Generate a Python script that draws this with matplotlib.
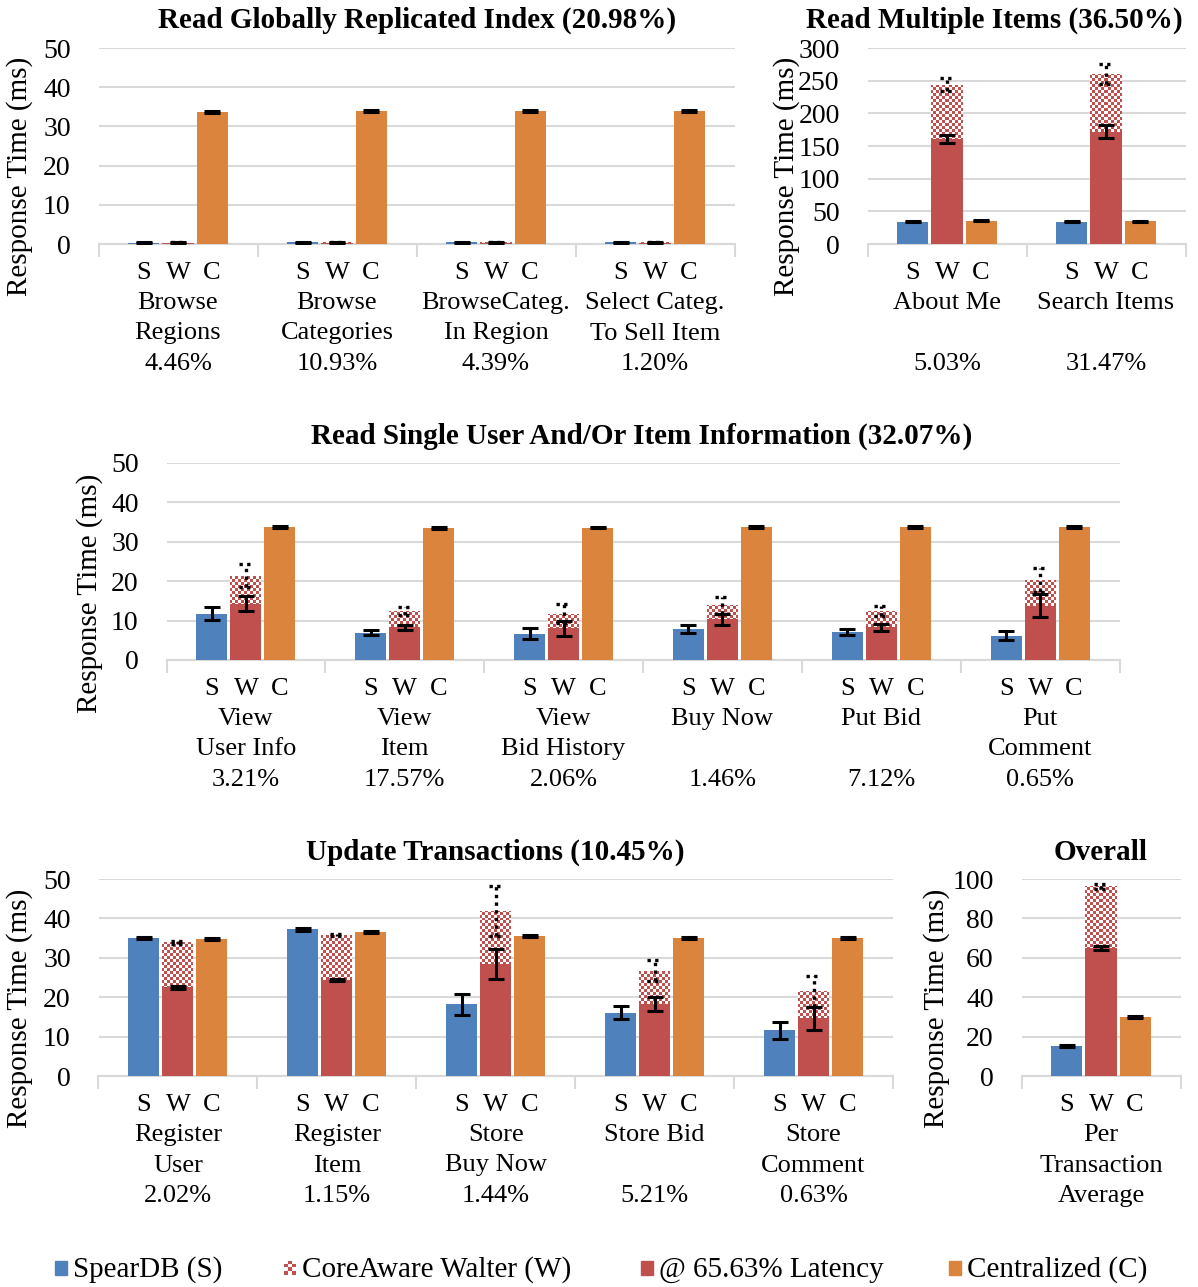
import numpy as np
import matplotlib
matplotlib.use('Agg')
import matplotlib.pyplot as plt
from matplotlib.colors import ListedColormap
from matplotlib.patches import Rectangle

plt.rcParams['font.family'] = ['Liberation Serif', 'DejaVu Serif']

W_PX, H_PX = 1198, 1287
BLUE = '#4F81BD'
RED = '#C0504D'
ORANGE = '#DB843D'
GRID = '#D9D9D9'

# ---- data (ms) ----
# Read Globally Replicated Index
p1_names = ["Browse\nRegions", "Browse\nCategories", "BrowseCateg.\nIn Region", "Select Categ.\nTo Sell Item"]
p1_pct = ["4.46%", "10.93%", "4.39%", "1.20%"]
p1_s = [0.3, 0.4, 0.4, 0.4]
p1_s_err = [0.1, 0.1, 0.1, 0.1]
p1_wlat = [0.3, 0.3, 0.3, 0.3]
p1_wlat_err = [0.1, 0.1, 0.1, 0.1]
p1_w = [0.35, 0.4, 0.4, 0.4]
p1_w_err = [0.05, 0.05, 0.05, 0.05]
p1_c = [33.7, 33.9, 33.9, 33.9]
p1_c_err = [0.3, 0.3, 0.3, 0.3]

# Read Multiple Items
p2_names = ["About Me\n", "Search Items\n"]
p2_pct = ["5.03%", "31.47%"]
p2_s = [34.0, 34.0]
p2_s_err = [1.0, 1.0]
p2_wlat = [161, 172]
p2_wlat_err = [6, 10.5]
p2_w = [244, 260]
p2_w_err = [10, 15.5]
p2_c = [35.5, 34.5]
p2_c_err = [1.0, 1.0]

# Read Single User And/Or Item Information
p3_names = ["View\nUser Info", "View\nItem", "View\nBid History", "Buy Now\n", "Put Bid\n", "Put\nComment"]
p3_pct = ["3.21%", "17.57%", "2.06%", "1.46%", "7.12%", "0.65%"]
p3_s = [11.8, 6.9, 6.7, 7.8, 7.1, 6.2]
p3_s_err = [1.6, 0.6, 1.4, 1.0, 0.7, 1.1]
p3_wlat = [14.3, 8.3, 8.0, 10.3, 8.3, 13.8]
p3_wlat_err = [1.9, 0.7, 1.9, 1.5, 0.9, 2.9]
p3_w = [21.4, 12.4, 11.8, 13.9, 12.5, 20.3]
p3_w_err = [2.9, 1.05, 2.5, 2.2, 1.3, 3.1]
p3_c = [33.7, 33.5, 33.6, 33.7, 33.7, 33.8]
p3_c_err = [0.2, 0.2, 0.2, 0.2, 0.2, 0.2]

# Update Transactions
p4_names = ["Register\nUser", "Register\nItem", "Store\nBuy Now", "Store Bid\n", "Store\nComment"]
p4_pct = ["2.02%", "1.15%", "1.44%", "5.21%", "0.63%"]
p4_s = [35.1, 37.2, 18.2, 16.1, 11.6]
p4_s_err = [0.3, 0.3, 2.6, 1.6, 2.2]
p4_wlat = [22.5, 24.3, 28.4, 18.2, 14.6]
p4_wlat_err = [0.3, 0.3, 3.9, 1.8, 3.0]
p4_w = [33.9, 35.8, 41.8, 26.7, 21.5]
p4_w_err = [0.3, 0.3, 6.3, 2.7, 4.0]
p4_c = [34.7, 36.6, 35.6, 35.1, 35.1]
p4_c_err = [0.3, 0.3, 0.3, 0.3, 0.3]

# Overall
p5_names = ["Per\nTransaction\nAverage"]
p5_pct = [""]
p5_s = [15.3]
p5_s_err = [0.5]
p5_wlat = [65.0]
p5_wlat_err = [1.2]
p5_w = [96.2]
p5_w_err = [1.5]
p5_c = [30.1]
p5_c_err = [0.5]

fig = plt.figure(figsize=(W_PX / 100, H_PX / 100), dpi=100)


def px_axes(left, top, width, height):
    return fig.add_axes([left / W_PX, 1 - (top + height) / H_PX, width / W_PX, height / H_PX])


def checker_image(ax, clip, cell=3):
    bb = ax.get_position()
    nx = int(round(bb.width * W_PX / cell))
    ny = int(round(bb.height * H_PX / cell))
    arr = (np.add.outer(np.arange(ny), np.arange(nx)) % 2)
    im = ax.imshow(arr, cmap=ListedColormap(['white', RED]), extent=[0, 1, 0, 1],
                   transform=ax.transAxes, interpolation='nearest', aspect='auto', zorder=2)
    im.set_clip_path(clip)


def panel(ax, names, pct, s, s_err, wlat, wlat_err, w, w_err, c, c_err, ymax, step):
    n = len(names)
    x = np.arange(n)
    off = 0.214
    bw = 0.195
    ekw = dict(fmt='none', ecolor='black', elinewidth=2.2, capsize=5.5, capthick=2.2, zorder=6)

    ax.bar(x - off, s, bw, color=BLUE, zorder=3)
    ax.errorbar(x - off, s, yerr=s_err, **ekw)

    wbars = ax.bar(x, w, bw, color='white', zorder=2)
    for b in wbars:
        checker_image(ax, b)
    ax.bar(x, wlat, bw, color=RED, zorder=3)
    # dotted error bars for the full Walter bar
    ax.vlines(x, np.array(w) - np.array(w_err), np.array(w) + np.array(w_err),
              colors='black', linestyles=(0, (1, 1.3)), linewidth=2.4, zorder=6)
    for yy in [np.array(w) - np.array(w_err), np.array(w) + np.array(w_err)]:
        ax.hlines(yy, x - 0.045, x + 0.045, colors='black', linestyles=(0, (1, 1.3)),
                  linewidth=2.4, zorder=6)
    ax.errorbar(x, wlat, yerr=wlat_err, **ekw)

    ax.bar(x + off, c, bw, color=ORANGE, zorder=3)
    ax.errorbar(x + off, c, yerr=c_err, **ekw)

    ax.set_xlim(-0.5, n - 0.5)
    ax.set_ylim(0, ymax)
    ax.set_yticks(np.arange(0, ymax + 1, step))
    ax.set_xticks(np.arange(-0.5, n, 1.0))
    ax.set_xticklabels([])
    ax.tick_params(axis='x', direction='out', length=9, width=1.5, color=GRID)
    ax.tick_params(axis='y', length=0, pad=20, labelsize=20)
    ax.grid(axis='y', color=GRID, linewidth=1.5, zorder=0)
    ax.set_axisbelow(True)
    for sp in ['left', 'right', 'top']:
        ax.spines[sp].set_visible(False)
    ax.spines['bottom'].set_color(GRID)
    ax.spines['bottom'].set_linewidth(1.5)

    h = ax.get_position().height * H_PX
    tr = ax.get_xaxis_transform()
    for i in range(n):
        for dx, lab in zip([-off, 0, off], ['S', 'W', 'C']):
            ax.text(i + dx, -29 / h, lab, transform=tr, ha='center', va='center', fontsize=19)
        lines = names[i].split('\n') + [pct[i]]
        for k, ln in enumerate(lines):
            ax.text(i, -(59 + 30.5 * k) / h, ln, transform=tr, ha='center', va='center', fontsize=19)


def ylabel(xc, yc):
    fig.text(xc / W_PX, 1 - yc / H_PX, 'Response Time (ms)', rotation=90,
             ha='center', va='center', fontsize=21)


def title(xc, yc, txt):
    fig.text(xc / W_PX, 1 - yc / H_PX, txt, ha='center', va='center',
             fontsize=21, fontweight='bold')


ax1 = px_axes(98.5, 48, 636, 196)
panel(ax1, p1_names, p1_pct, p1_s, p1_s_err, p1_wlat, p1_wlat_err, p1_w, p1_w_err, p1_c, p1_c_err, 50, 10)
ylabel(20, 176)
title(417, 20, 'Read Globally Replicated Index (20.98%)')

ax2 = px_axes(867.5, 48, 318, 196)
panel(ax2, p2_names, p2_pct, p2_s, p2_s_err, p2_wlat, p2_wlat_err, p2_w, p2_w_err, p2_c, p2_c_err, 300, 50)
ylabel(787, 176)
title(994, 20, 'Read Multiple Items (36.50%)')

ax3 = px_axes(166.5, 463, 953, 197)
panel(ax3, p3_names, p3_pct, p3_s, p3_s_err, p3_wlat, p3_wlat_err, p3_w, p3_w_err, p3_c, p3_c_err, 50, 10)
ylabel(90, 593)
title(642, 436, 'Read Single User And/Or Item Information (32.07%)')

ax4 = px_axes(98.5, 879, 794.5, 197)
panel(ax4, p4_names, p4_pct, p4_s, p4_s_err, p4_wlat, p4_wlat_err, p4_w, p4_w_err, p4_c, p4_c_err, 50, 10)
ylabel(20, 1008)
title(495, 852, 'Update Transactions (10.45%)')

ax5 = px_axes(1021.5, 879, 159, 197)
panel(ax5, p5_names, p5_pct, p5_s, p5_s_err, p5_wlat, p5_wlat_err, p5_w, p5_w_err, p5_c, p5_c_err, 100, 20)
ylabel(937, 1008)
title(1101, 852, 'Overall')

# ---- legend ----
leg_items = [(55, BLUE, 'SpearDB (S)'), (284, None, 'CoreAware Walter (W)'),
             (641, RED, '@ 65.63% Latency'), (949, ORANGE, 'Centralized (C)')]
for lx, col, lab in leg_items:
    if col is None:
        lax = px_axes(lx, 1261, 12, 14)
        arr = np.add.outer(np.arange(4), np.arange(3)) % 2
        lax.imshow(arr, cmap=ListedColormap(['white', RED]), interpolation='nearest', aspect='auto')
        lax.axis('off')
    else:
        fig.add_artist(Rectangle((lx / W_PX, 1 - 1275 / H_PX), 12 / W_PX, 14 / H_PX,
                                 transform=fig.transFigure, color=col))
    fig.text((lx + 18) / W_PX, 1 - 1270 / H_PX, lab, ha='left', va='center', fontsize=21)

fig.savefig('out.png', dpi=100)
